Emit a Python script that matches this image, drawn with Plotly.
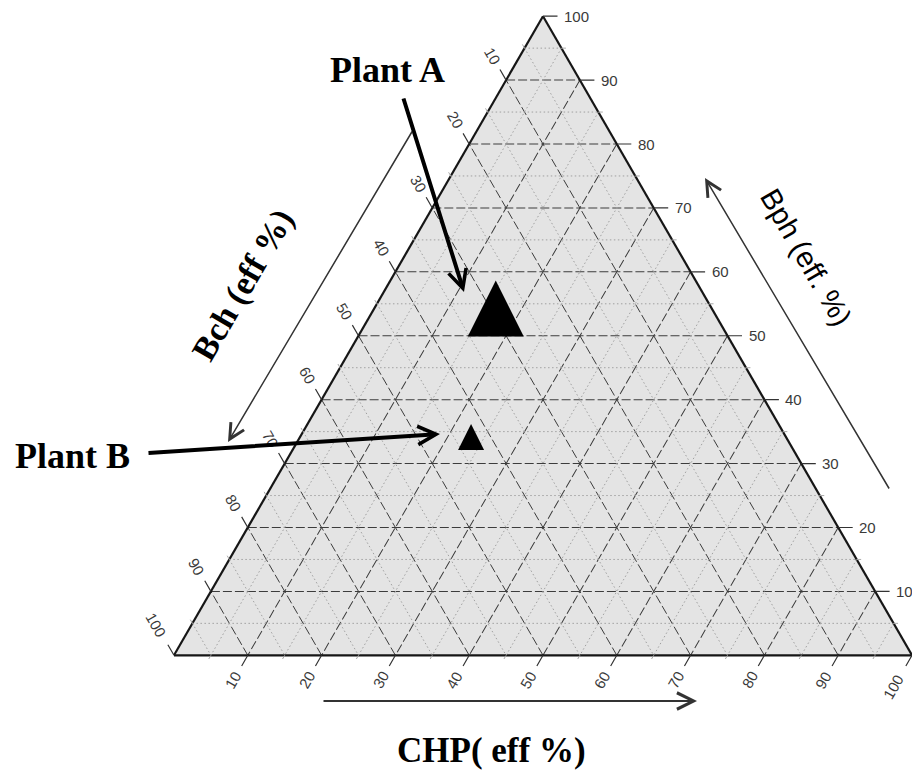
import math
import plotly.graph_objects as go

# ---------------- data ----------------
plant_names = ["Plant A", "Plant B"]
bph_eff = [52.8, 33.5]   # top vertex  (Bph, eff. %)
bch_eff = [30.0, 43.0]   # bottom-left (Bch, eff %)
chp_eff = [17.2, 23.5]   # bottom-right (CHP, eff %)

tick_vals = [10, 20, 30, 40, 50, 60, 70, 80, 90, 100]
tick_text = ["10", "20", "30", "40", "50", "60", "70", "80", "90", "100"]
grid_vals = [0, 10, 20, 30, 40, 50, 60, 70, 80, 90]
minor_vals = [5, 15, 25, 35, 45, 55, 65, 75, 85, 95]

TOTAL = 100
W, H = 920, 773
OFF = 8          # page margin of the html body (screen px = figure px + OFF)
DOM_X = [0.180435, 0.982609]
DOM_Y = [0.16, 0.992]

# ---- ternary frame geometry, computed exactly as plotly lays it out ----
W_OVER_H = 2 / math.sqrt(3)
wmax = (DOM_X[1] - DOM_X[0]) * W
hmax = (DOM_Y[1] - DOM_Y[0]) * H
if wmax > W_OVER_H * hmax:
    TH = hmax
    TW = TH * W_OVER_H
else:
    TW = wmax
    TH = TW / W_OVER_H
TX0 = W * (DOM_X[0] + DOM_X[1]) / 2 - TW / 2
TY0 = H * (1 - (DOM_Y[0] + DOM_Y[1]) / 2) - TH / 2


def tern_xy(a, b, c):
    s = a + b + c
    return TX0 + TW * (c + a / 2) / s, TY0 + TH * (1 - a / s)


def fx(x):           # figure px -> paper
    return x / W


def fy(y):
    return 1 - y / H


def px(x):           # screen px -> paper
    return (x - OFF) / W


def py(y):
    return 1 - (y - OFF) / H


# minor (dotted) grid built from the minor tick values
ga, gb, gc = [], [], []
for v in minor_vals:
    r = TOTAL - v
    ga += [v, v, None]; gb += [r, 0, None]; gc += [0, r, None]
    ga += [r, 0, None]; gb += [v, v, None]; gc += [0, r, None]
    ga += [r, 0, None]; gb += [0, r, None]; gc += [v, v, None]

fig = go.Figure()
fig.add_trace(go.Scatterternary(
    a=ga, b=gb, c=gc, mode="lines",
    line=dict(color="#a0a0a0", width=1, dash="1.5px,2.5px"),
    hoverinfo="skip", showlegend=False,
))
fig.add_trace(go.Scatterternary(
    a=bph_eff, b=bch_eff, c=chp_eff, mode="markers", text=plant_names,
    marker=dict(symbol="arrow-down", angle=180, size=[56, 26],
                standoff=[37.3, 17.3], color="#000000", opacity=1,
                line=dict(width=0)),
    showlegend=False,
))


def axis():
    return dict(
        title=dict(text=""),
        tickmode="array", tickvals=grid_vals, ticks="", showticklabels=False,
        showline=True, linecolor="#161616", linewidth=2.2,
        showgrid=True, gridcolor="#3c3c3c", gridwidth=1.4, griddash="9px,3px",
        layer="below traces",
    )


fig.update_layout(
    width=W, height=H,
    margin=dict(l=0, r=0, t=0, b=0, autoexpand=False),
    paper_bgcolor="white",
    ternary=dict(
        sum=TOTAL,
        bgcolor="#e4e4e4",
        domain=dict(x=DOM_X, y=DOM_Y),
        aaxis=axis(), baxis=axis(), caxis=axis(),
    ),
)

serif = "Liberation Serif, Times New Roman, serif"
sans = "Liberation Sans, Arial, sans-serif"
tickfont = dict(family=sans, size=15, color="#3a3a3a")
ann = []


def tick(pt, dx, dy, color, width):
    return dict(x=fx(pt[0]), y=fy(pt[1]), xref="paper", yref="paper",
                ax=dx, ay=dy, showarrow=True, arrowhead=0, arrowwidth=width,
                arrowcolor=color, text="")


U_LEFT = (-0.5, -math.sqrt(3) / 2)
U_BOT = (-0.5, math.sqrt(3) / 2)

for v, t in zip(tick_vals, tick_text):
    n = len(t)
    # left edge: Bch
    p = tern_xy(TOTAL - v, v, 0)
    ann.append(tick(p, 14 * U_LEFT[0], 14 * U_LEFT[1], "#333", 1.2))
    d = 12 + 8 * n
    ann.append(dict(x=fx(p[0] + d * U_LEFT[0]), y=fy(p[1] + d * U_LEFT[1]),
                    xref="paper", yref="paper", showarrow=False, text=t,
                    textangle=60, xanchor="center", yanchor="middle", font=tickfont))
    # bottom edge: CHP
    p = tern_xy(0, TOTAL - v, v)
    ann.append(tick(p, 14 * U_BOT[0], 14 * U_BOT[1], "#333", 1.2))
    d = 12.5 + 8 * n
    ann.append(dict(x=fx(p[0] + d * U_BOT[0]), y=fy(p[1] + d * U_BOT[1]),
                    xref="paper", yref="paper", showarrow=False, text=t,
                    textangle=-60, xanchor="center", yanchor="middle", font=tickfont))
    # right edge: Bph
    p = tern_xy(v, 0, TOTAL - v)
    ann.append(tick(p, 16, 0, "#333", 1.2))
    ann.append(dict(x=fx(p[0] + 19), y=fy(p[1]), xref="paper", yref="paper",
                    showarrow=False, text=t, xanchor="left", yanchor="middle",
                    font=tickfont))

for v in minor_vals:
    p = tern_xy(TOTAL - v, v, 0)
    ann.append(tick(p, 6 * U_LEFT[0], 6 * U_LEFT[1], "#aaa", 1))
    p = tern_xy(0, TOTAL - v, v)
    ann.append(tick(p, 6 * U_BOT[0], 6 * U_BOT[1], "#aaa", 1))
    p = tern_xy(v, 0, TOTAL - v)
    ann.append(tick(p, 6, 0, "#aaa", 1))


def label(x, y, text, font, angle=0):
    return dict(x=px(x), y=py(y), xref="paper", yref="paper", showarrow=False,
                xanchor="center", yanchor="middle", text=text, textangle=angle,
                font=font)


ann += [
    label(387, 70, "<b>Plant A</b>", dict(family=serif, size=36, color="black")),
    label(72, 456, "<b>Plant B</b>", dict(family=serif, size=36, color="black")),
    label(243, 285, "<b>Bch (eff %)</b>", dict(family=serif, size=34, color="black"), -60),
    label(806, 257, "Bph (eff. %)", dict(family=sans, size=29, color="black"), 60),
    label(492, 750, "<b>CHP( eff %)</b>", dict(family=serif, size=35, color="black")),
]


def arrow(tip, tail, width, size, color):
    return dict(x=px(tip[0]), y=py(tip[1]), xref="paper", yref="paper",
                ax=tail[0] - tip[0], ay=tail[1] - tip[1],
                showarrow=True, arrowhead=5, arrowwidth=width, arrowsize=size,
                arrowcolor=color, text="")


ann.append(arrow((464, 292), (403, 97), 4, 0.9, "black"))
ann.append(arrow((440, 434), (147, 453), 4, 0.9, "black"))
ann.append(arrow((228, 442), (413, 130), 1.5, 2, "#333"))
ann.append(arrow((705, 178), (890, 490), 1.5, 2, "#333"))
ann.append(arrow((697, 701), (322, 701), 1.8, 1.8, "#333"))

fig.update_layout(annotations=ann)
fig.write_html("out.html")
